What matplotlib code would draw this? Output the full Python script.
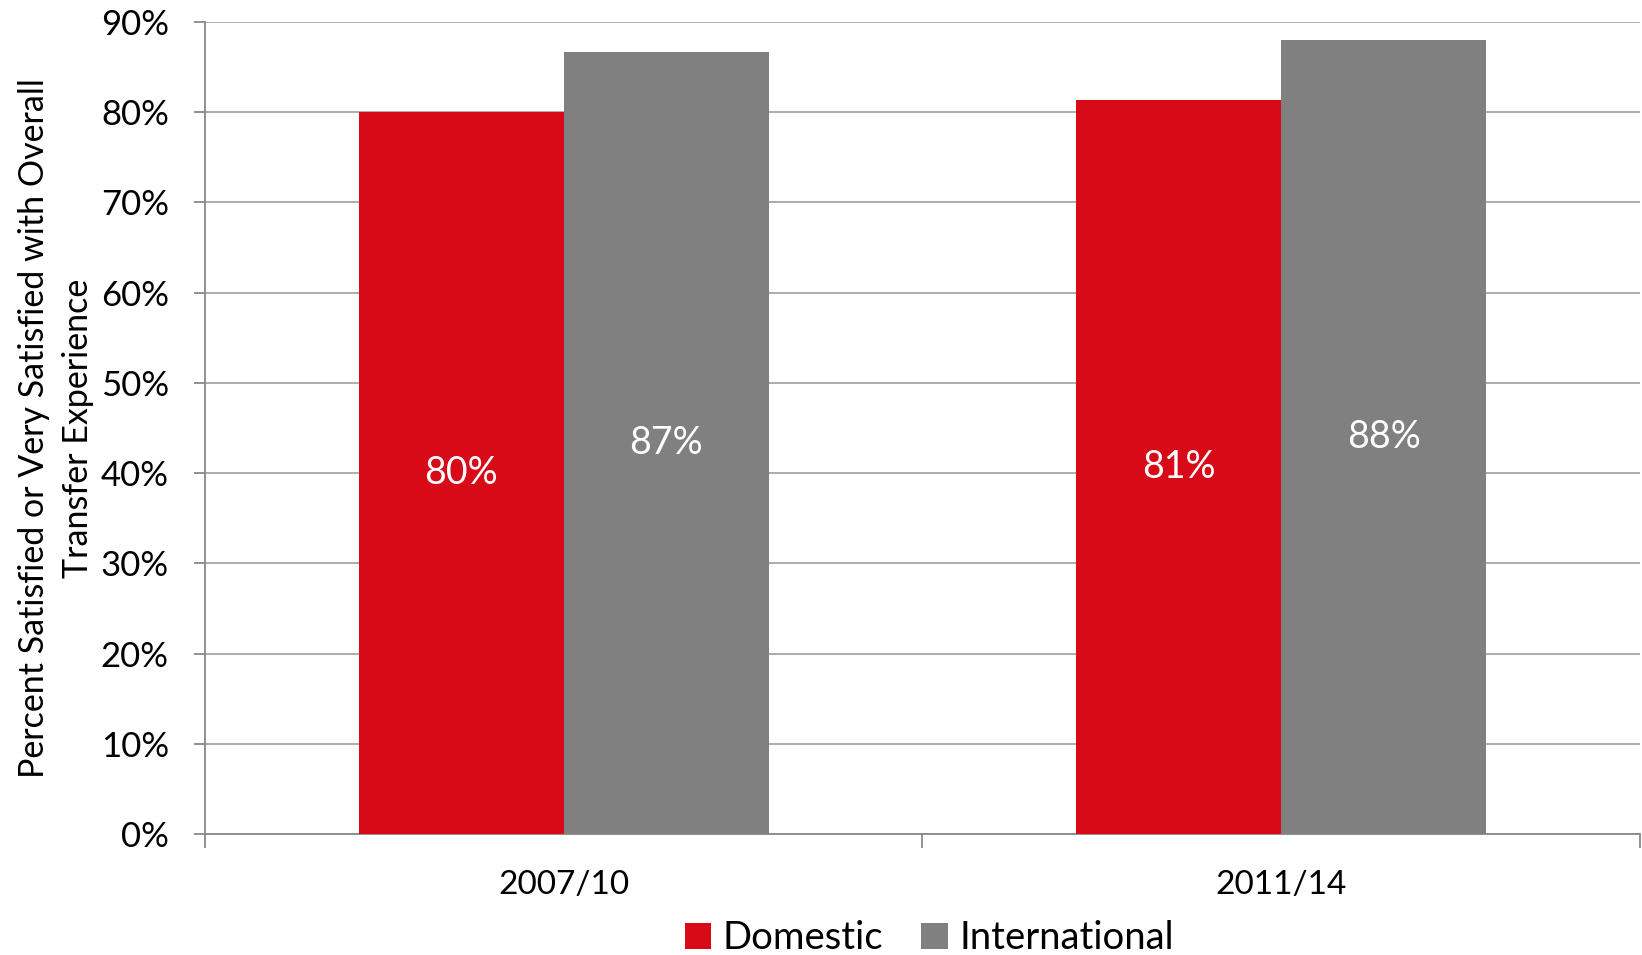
import numpy as np
import matplotlib
matplotlib.use("Agg")
import matplotlib.pyplot as plt
from matplotlib.ticker import FuncFormatter, FixedLocator

plt.rcParams['font.family'] = ['Lato', 'DejaVu Sans']

categories = ["2007/10", "2011/14"]
domestic = [80.0, 81.3]
international = [86.7, 88.0]
domestic_labels = ["80%", "81%"]
international_labels = ["87%", "88%"]

red = "#D90A17"
grey = "#808080"

fig = plt.figure(figsize=(16.42, 9.55), dpi=100)
ax = fig.add_axes([0.1248, 0.1267, 0.8740, 0.8503])

x = np.arange(len(categories))
w = 1 / 3.5
b1 = ax.bar(x - w / 2, domestic, w, color=red, label="Domestic", zorder=3)
b2 = ax.bar(x + w / 2, international, w, color=grey, label="International", zorder=3)

for bars, labels in [(b1, domestic_labels), (b2, international_labels)]:
    for rect, lab in zip(bars, labels):
        ax.text(rect.get_x() + rect.get_width() / 2, rect.get_height() / 2, lab,
                ha="center", va="center", color="white", fontsize=27, zorder=4)

ax.set_xlim(-0.5, len(categories) - 0.5)
ax.set_ylim(0, 90)
ax.set_yticks(np.arange(0, 91, 10))
ax.yaxis.set_major_formatter(FuncFormatter(lambda v, p: f"{v:.0f}%"))
ax.grid(axis="y", color="#A6A6A6", linewidth=1.3, zorder=0)

ax.set_xticks(x)
ax.set_xticklabels(categories, fontsize=24)
ax.tick_params(axis="x", length=0, pad=26)
ax.xaxis.set_minor_locator(FixedLocator([-0.5, 0.5, 1.5]))
ax.tick_params(axis="x", which="minor", length=10, color="#888888", width=1.3)
ax.tick_params(axis="y", labelsize=25, length=8, color="#888888", width=1.3, pad=18)

for s in ["top", "right"]:
    ax.spines[s].set_visible(False)
for s in ["left", "bottom"]:
    ax.spines[s].set_color("#888888")
    ax.spines[s].set_linewidth(1.3)

ax.set_ylabel("Percent Satisfied or Very Satisfied with Overall\nTransfer Experience",
              fontsize=24.5, linespacing=1.45)
ax.yaxis.set_label_coords(-0.0775, 0.5)

fig.legend(handles=[b1, b2], loc="center", bbox_to_anchor=(0.566, 0.0173), ncol=2,
           frameon=False, fontsize=27.5, handlelength=0.7, handleheight=0.7,
           handletextpad=0.3, columnspacing=1.0, borderpad=0)

fig.savefig("out.png", dpi=100)
